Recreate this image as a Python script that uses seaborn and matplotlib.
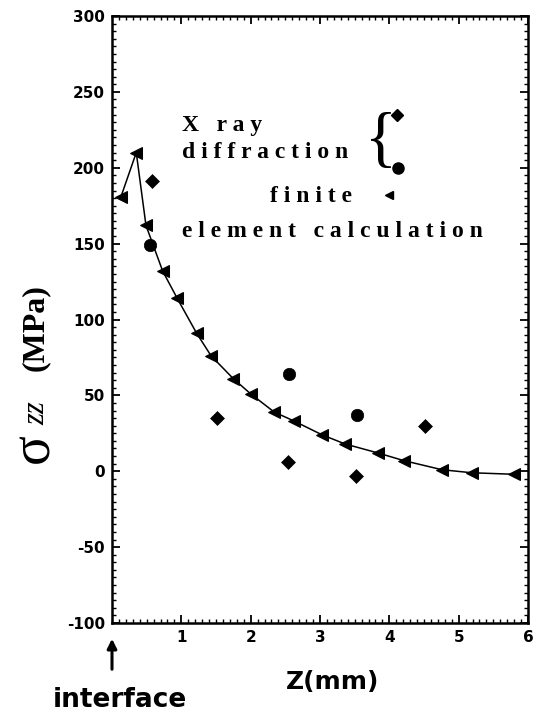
import matplotlib
matplotlib.use("Agg")
import matplotlib.pyplot as plt
import seaborn as sns
import numpy as np
from matplotlib.ticker import MultipleLocator, FixedLocator

# ---- data ----
fe_z = [0.13, 0.35, 0.49, 0.73, 0.94, 1.22, 1.43, 1.75, 2.0, 2.34, 2.63, 3.03, 3.36, 3.84, 4.21, 4.76, 5.19, 5.80]
fe_s = [181, 210, 162, 132, 114, 91, 76, 61, 51, 39, 33, 24, 18, 12, 7, 1, -1, -2]

xrd1_z = [0.58, 1.51, 2.54, 3.52, 4.52]
xrd1_s = [191, 35, 6, -3, 30]

xrd2_z = [0.55, 2.56, 3.54]
xrd2_s = [149, 64, 37]

x_ticks = [1, 2, 3, 4, 5, 6]
y_ticks = [-100, -50, 0, 50, 100, 150, 200, 250, 300]

sns.set_style("ticks")
plt.rcParams['axes.unicode_minus'] = False
plt.rcParams['font.family'] = ['DejaVu Sans']
plt.rcParams['text.color'] = 'black'
plt.rcParams['axes.labelcolor'] = 'black'
plt.rcParams['xtick.color'] = 'black'
plt.rcParams['ytick.color'] = 'black'

W, H = 535, 719
fig = plt.figure(figsize=(W / 100, H / 100), dpi=100)
ax = fig.add_axes([112 / W, 1 - 623 / H, 416 / W, 607 / H])


def px(xp, yp):
    """figure fraction from pixel position (top-left origin)"""
    return xp / W, 1 - yp / H


sns.lineplot(x=fe_z, y=fe_s, ax=ax, color='black', lw=1.1, marker='<',
             markersize=8, markeredgecolor='black', sort=False, estimator=None)
sns.scatterplot(x=xrd1_z, y=xrd1_s, ax=ax, marker='D', s=50, color='black',
                edgecolor='black', linewidth=0.5)
sns.scatterplot(x=xrd2_z, y=xrd2_s, ax=ax, marker='o', s=80, color='black',
                edgecolor='black', linewidth=0.5)

ax.set_xlim(0, 6)
ax.set_ylim(-100, 300)
ax.xaxis.set_major_locator(FixedLocator(x_ticks))
ax.set_xticklabels([str(v) for v in x_ticks])
ax.xaxis.set_minor_locator(MultipleLocator(0.1))
ax.yaxis.set_major_locator(FixedLocator(y_ticks))
ax.set_yticklabels([str(v) for v in y_ticks])
ax.yaxis.set_minor_locator(MultipleLocator(5))
ax.tick_params(which='both', direction='in', top=True, right=True, color='black', labelcolor='black')
ax.tick_params(which='major', length=6, width=1.3, labelsize=11, pad=5)
ax.tick_params(which='minor', length=3, width=1.0)
for lab in ax.get_xticklabels() + ax.get_yticklabels():
    lab.set_fontweight('bold')
for sp in ax.spines.values():
    sp.set_linewidth(1.8)
    sp.set_color('black')
ax.set_xlabel('')
ax.set_ylabel('')

# ---- legend-like annotation ----
serif = ['Liberation Serif', 'DejaVu Serif']
fs = 17
fig.text(*px(182, 125), 'X   r a y', family=serif, weight='bold', fontsize=fs, va='center', ha='left')
fig.text(*px(182, 153), 'd i f f r a c t i o n', family=serif, weight='bold', fontsize=fs, va='center', ha='left')
fig.text(*px(270, 197), 'f i n i t e', family=serif, weight='bold', fontsize=fs, va='center', ha='left')
fig.text(*px(182, 232), 'e l e m e n t   c a l c u l a t i o n', family=serif, weight='bold', fontsize=fs, va='center', ha='left')
fig.text(*px(381, 142), '{', family=serif, fontsize=48, va='center', ha='center')
ax.plot([px(397, 115)[0]], [px(397, 115)[1]], marker='D', ms=6, color='black', transform=fig.transFigure, clip_on=False)
ax.plot([px(398, 168)[0]], [px(398, 168)[1]], marker='o', ms=8, color='black', transform=fig.transFigure, clip_on=False)
ax.plot([px(389, 195)[0]], [px(389, 195)[1]], marker='<', ms=6, color='black', transform=fig.transFigure, clip_on=False)

# ---- axis labels ----
fig.text(*px(333, 682), 'Z(mm)', weight='bold', fontsize=18, ha='center', va='center')
fig.text(*px(53, 700), 'interface', weight='bold', fontsize=19, ha='left', va='center')
fig.text(*px(34, 448), 'σ', family=serif, fontsize=40, rotation=90, ha='center', va='center')
fig.text(*px(37, 413), 'zz', family=serif, style='italic', fontsize=22, rotation=90, ha='center', va='center')
fig.text(*px(35, 328), '(MPa)', family=serif, weight='bold', fontsize=23, rotation=90, ha='center', va='center')

ax.annotate('', xy=px(112, 636), xytext=px(112, 672), xycoords='figure fraction',
            textcoords='figure fraction',
            arrowprops=dict(arrowstyle='-|>', lw=2.2, color='black', mutation_scale=14),
            annotation_clip=False)

fig.savefig('out.png', dpi=100)
